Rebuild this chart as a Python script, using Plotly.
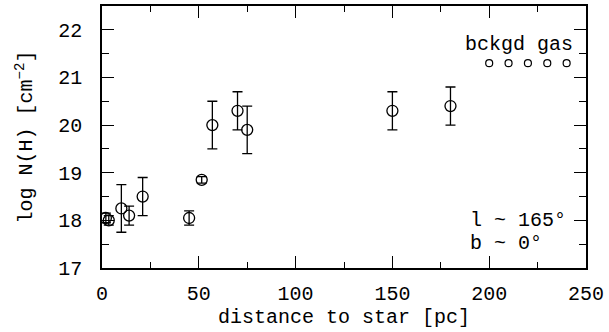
import plotly.graph_objects as go

# measured sightlines
dist = [2, 3.5, 10, 14, 21, 45, 51.5, 57, 70, 75, 150, 180]
logNH = [18.05, 18.0, 18.25, 18.1, 18.5, 18.05, 18.85, 20.0, 20.3, 19.9, 20.3, 20.4]
err = [0.1, 0.1, 0.5, 0.2, 0.4, 0.15, 0.07, 0.5, 0.4, 0.5, 0.4, 0.4]

# background gas markers
bg_dist = [200, 210, 220, 230, 240]
bg_logNH = [21.3, 21.3, 21.3, 21.3, 21.3]

FONT = "Liberation Mono"
FS = 20

fig = go.Figure()
fig.add_trace(go.Scatter(
    x=dist, y=logNH, mode="markers",
    marker=dict(symbol="circle-open", size=11, color="black", line=dict(width=1.3)),
    error_y=dict(type="data", array=err, visible=True, color="black", thickness=1.3, width=5),
    showlegend=False))
fig.add_trace(go.Scatter(
    x=bg_dist, y=bg_logNH, mode="markers",
    marker=dict(symbol="circle-open", size=7, color="black", line=dict(width=1.2)),
    showlegend=False))

fig.add_annotation(x=244.5, y=21.69, text="bckgd gas", showarrow=False,
                   xanchor="right", yanchor="middle", font=dict(family=FONT, size=FS, color="black"))
fig.add_annotation(x=189, y=18.0, text="l ~ 165°", showarrow=False,
                   xanchor="left", yanchor="middle", font=dict(family=FONT, size=FS, color="black"))
fig.add_annotation(x=189, y=17.52, text="b ~ 0°", showarrow=False,
                   xanchor="left", yanchor="middle", font=dict(family=FONT, size=FS, color="black"))

axis_common = dict(showline=True, linecolor="black", linewidth=1.5, mirror="allticks",
                   ticks="inside", ticklen=12, tickwidth=1.3, tickcolor="black",
                   showgrid=False, zeroline=False,
                   tickfont=dict(family=FONT, size=FS, color="black"))

fig.update_xaxes(range=[0, 250], tick0=0, dtick=50, ticklabelstandoff=6,
                 minor=dict(ticks="inside", ticklen=6, dtick=25, tickcolor="black", tickwidth=1.2),
                 title=dict(text="distance to star [pc]", font=dict(family=FONT, size=FS, color="black"), standoff=0),
                 **axis_common)
fig.update_yaxes(range=[17, 22.5], tick0=17, dtick=1, ticklabelstandoff=14,
                 minor=dict(ticks="inside", ticklen=7, dtick=0.5, tickcolor="black", tickwidth=1.2),
                 title=dict(text="log N(H) [cm<sup>−2</sup>]", font=dict(family=FONT, size=FS, color="black"), standoff=20),
                 **axis_common)

fig.update_layout(width=609, height=332, margin=dict(l=102, r=23, t=4, b=64),
                  plot_bgcolor="white", paper_bgcolor="white")

fig.write_html("out.html", config={"displayModeBar": False},
               post_script="document.body.style.margin='0';document.body.style.overflow='hidden';")
